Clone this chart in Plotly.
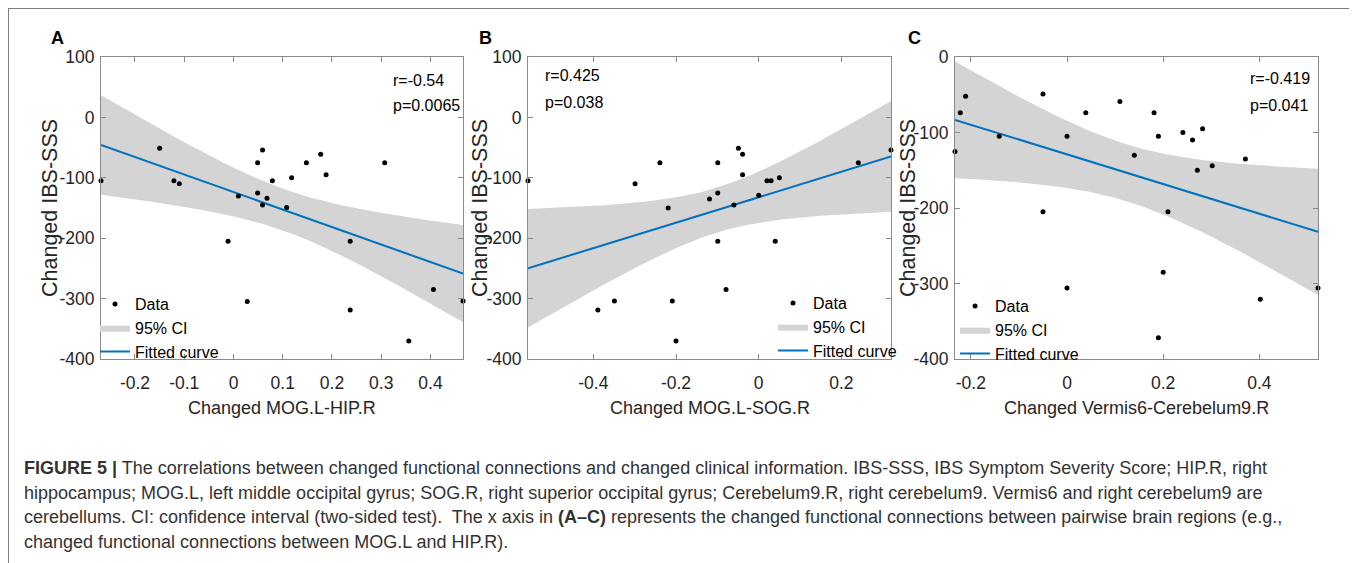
import numpy as np
import plotly.graph_objects as go

# the page body has an 8px margin, so the figure is drawn 8px in and 8px smaller
OX, OY = 8, 8
W, H = 1357 - OX, 563 - OY

# panel A: MOG.L-HIP.R
a_x = [-0.269, -0.150, -0.121, -0.110, -0.011, 0.010, 0.028, 0.049, 0.059, 0.049, 0.059, 0.068,
       0.079, 0.108, 0.118, 0.148, 0.177, 0.188, 0.237, 0.237, 0.307, 0.356, 0.406, 0.466]
a_y = [-105, -51, -105, -110, -205, -130, -305, -75, -54, -125, -145, -134,
       -105, -149, -100, -75, -61, -95, -205, -319, -75, -370, -285, -304]

# panel B: MOG.L-SOG.R
b_x = [-0.558, -0.389, -0.349, -0.299, -0.239, -0.219, -0.209, -0.200, -0.119, -0.099, -0.099, -0.099,
       -0.079, -0.060, -0.049, -0.039, -0.039, 0.000, 0.020, 0.030, 0.040, 0.050, 0.241, 0.320]
b_y = [-105, -319, -304, -110, -75, -150, -304, -370, -135, -75, -125, -205,
       -285, -145, -51, -61, -95, -129, -105, -105, -205, -100, -75, -54]

# panel C: Vermis6-Cerebelum9.R
c_x = [-0.233, -0.222, -0.211, -0.141, -0.050, -0.050, 0.000, 0.000, 0.039, 0.110, 0.140, 0.181,
       0.190, 0.190, 0.200, 0.210, 0.241, 0.261, 0.271, 0.282, 0.302, 0.371, 0.402, 0.522]
c_y = [-125, -74, -52, -105, -49, -205, -105, -306, -74, -59, -130, -74,
       -105, -372, -285, -205, -100, -110, -150, -95, -144, -135, -321, -306]

letters = ["A", "B", "C"]
x_titles = ["Changed MOG.L-HIP.R", "Changed MOG.L-SOG.R", "Changed Vermis6-Cerebelum9.R"]
stats = [("r=-0.54", "p=0.0065"), ("r=0.425", "p=0.038"), ("r=-0.419", "p=0.041")]
y_ranges = [(-400, 100), (-400, 100), (-400, 0)]
x_ticks = [[-0.2, -0.1, 0, 0.1, 0.2, 0.3, 0.4], [-0.4, -0.2, 0, 0.2], [-0.2, 0, 0.2, 0.4]]
x_ticktext = [["-0.2", "-0.1", "0", "0.1", "0.2", "0.3", "0.4"], ["-0.4", "-0.2", "0", "0.2"],
              ["-0.2", "0", "0.2", "0.4"]]
y_ticks = [-400, -300, -200, -100, 0, 100]
y_ticktext = ["-400", "-300", "-200", "-100", "0", "100"]

caption = [
    "<b>FIGURE 5 |</b> The correlations between changed functional connections and changed clinical "
    "information. IBS-SSS, IBS Symptom Severity Score; HIP.R, right",
    "hippocampus; MOG.L, left middle occipital gyrus; SOG.R, right superior occipital gyrus; "
    "Cerebelum9.R, right cerebelum9. Vermis6 and right cerebelum9 are",
    "cerebellums. CI: confidence interval (two-sided test).\u00a0 The x axis in <b>(A\u2013C)</b> "
    "represents the changed functional connections between pairwise brain regions (e.g.,",
    "changed functional connections between MOG.L and HIP.R).",
]

T_975 = 2.074  # t quantile, df = 22

FONT = "Liberation Sans, Arial, sans-serif"
TXT = "#262626"
AXC = "#8a8a8a"
BLUE = "#0072BD"
BAND = "#d4d4d4"


def px(v):
    return (v - OX) / W


def py(v):
    return 1 - (v - OY) / H


def fit_band(x, y):
    x = np.asarray(x, float)
    y = np.asarray(y, float)
    n = len(x)
    b1, b0 = np.polyfit(x, y, 1)
    res = y - (b0 + b1 * x)
    s = np.sqrt((res ** 2).sum() / (n - 2))
    sxx = ((x - x.mean()) ** 2).sum()
    xs = np.linspace(x.min(), x.max(), 120)
    yh = b0 + b1 * xs
    h = T_975 * s * np.sqrt(1 / n + (xs - x.mean()) ** 2 / sxx)
    return xs, yh, yh - h, yh + h


# pixel positions (page coordinates)
boxes = [(101, 463), (528, 891), (955, 1318)]
TOP, BOT = 57, 359
ytitle_x = [50, 480, 908]
stat_pos = [(391, 80, 106), (543, 75, 102), (1248, 78, 105)]
letter_x = [49, 477, 906]
legend_pos = [(95, 287), (773, 286), (955, 289)]

data = [(a_x, a_y), (b_x, b_y), (c_x, c_y)]

fig = go.Figure()
annotations = []
for i, (xv, yv) in enumerate(data):
    k = "" if i == 0 else str(i + 1)
    leg = "legend" + k
    xs, yh, lo, hi = fit_band(xv, yv)
    fig.add_trace(go.Scatter(
        x=np.concatenate([xs, xs[::-1]]), y=np.concatenate([hi, lo[::-1]]),
        fill="toself", fillcolor=BAND, line=dict(width=0), mode="lines",
        name="95% CI", legend=leg, legendrank=2, xaxis="x" + k, yaxis="y" + k,
    ))
    fig.add_trace(go.Scatter(
        x=xs, y=yh, mode="lines", line=dict(color=BLUE, width=2),
        name="Fitted curve", legend=leg, legendrank=3, xaxis="x" + k, yaxis="y" + k,
    ))
    fig.add_trace(go.Scatter(
        x=xv, y=yv, mode="markers", name="Data", legend=leg, legendrank=1,
        marker=dict(color="black", size=5), cliponaxis=False,
        xaxis="x" + k, yaxis="y" + k,
    ))

    l, r = boxes[i]
    fig.update_layout({
        "xaxis" + k: dict(
            domain=[px(l), px(r)], anchor="y" + k, range=[min(xv), max(xv)],
            tickvals=x_ticks[i], ticktext=x_ticktext[i], automargin=False,
            ticks="inside", ticklen=5, tickcolor=AXC, showline=True, linecolor=AXC,
            linewidth=1, mirror="ticks", showgrid=False, zeroline=False,
            tickfont=dict(family=FONT, size=17.5, color=TXT), ticklabelstandoff=8,
        ),
        "yaxis" + k: dict(
            domain=[py(BOT), py(TOP)], anchor="x" + k, range=list(y_ranges[i]),
            tickvals=y_ticks, ticktext=y_ticktext, automargin=False,
            ticks="inside", ticklen=5, tickcolor=AXC, showline=True, linecolor=AXC,
            linewidth=1, mirror="ticks", showgrid=False, zeroline=False,
            tickfont=dict(family=FONT, size=17.5, color=TXT), ticklabelstandoff=2,
        ),
        leg: dict(
            x=px(legend_pos[i][0]), y=py(legend_pos[i][1]), xanchor="left", yanchor="top",
            bgcolor="rgba(0,0,0,0)", font=dict(family=FONT, size=16, color="black"),
            traceorder="normal", itemwidth=30,
        ),
    })

    annotations += [
        dict(text=x_titles[i], x=px((l + r) / 2), y=py(408), xanchor="center", yanchor="middle",
             font=dict(family=FONT, size=18, color=TXT)),
        dict(text="Changed IBS-SSS", x=px(ytitle_x[i]), y=py((TOP + BOT) / 2), textangle=-90,
             xanchor="center", yanchor="middle", font=dict(family=FONT, size=21.5, color=TXT)),
        dict(text="<b>%s</b>" % letters[i], x=px(letter_x[i]), y=py(37.5), xanchor="left",
             yanchor="middle", font=dict(family=FONT, size=18, color="black")),
        dict(text=stats[i][0], x=px(stat_pos[i][0]), y=py(stat_pos[i][1]), xanchor="left",
             yanchor="middle", font=dict(family=FONT, size=16, color="black")),
        dict(text=stats[i][1], x=px(stat_pos[i][0]), y=py(stat_pos[i][2]), xanchor="left",
             yanchor="middle", font=dict(family=FONT, size=16, color="black")),
    ]

for j, line in enumerate(caption):
    annotations.append(dict(
        text=line, x=px(22), y=py(468 + 24.5 * j), xanchor="left", yanchor="middle",
        font=dict(family=FONT, size=18, color="#333333"),
    ))

for a in annotations:
    a.update(xref="paper", yref="paper", showarrow=False)

fig.update_layout(
    template="none",
    width=W, height=H, margin=dict(l=0, r=0, t=0, b=0),
    paper_bgcolor="white", plot_bgcolor="white", showlegend=True,
    annotations=annotations,
    shapes=[dict(type="rect", xref="paper", yref="paper", x0=0, x1=px(1355),
                 y0=-0.1, y1=1, line=dict(color="#7f7f7f", width=2))],
)

fig.write_html("out.html")
